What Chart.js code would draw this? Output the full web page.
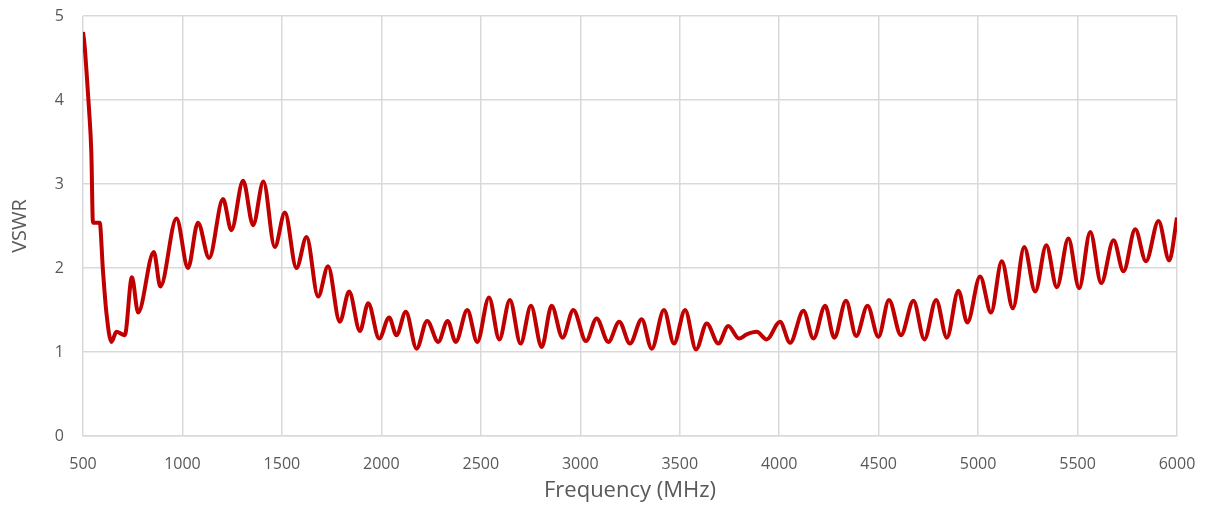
<!DOCTYPE html>
<html>
<head>
<meta charset="utf-8">
<script src="https://cdn.jsdelivr.net/npm/chart.js@4"></script>
<style>
  html, body { margin: 0; padding: 0; background: #ffffff; }
  #wrap { width: 1208px; height: 508px; position: relative; }
</style>
</head>
<body>
<div id="wrap"><canvas id="chart"></canvas></div>
<script>
const freqMHz = [
  500, 508, 517, 530, 542, 550, 584, 600, 618, 643, 668, 710,
  746, 777, 856, 889, 970, 1028, 1078, 1134, 1204, 1246,
  1305, 1355, 1407, 1464, 1515, 1573, 1624, 1682, 1732, 1791,
  1838, 1892, 1934, 1989, 2039, 2076, 2123, 2177, 2230, 2286,
  2333, 2374, 2432, 2482, 2541, 2593, 2646, 2700, 2752, 2806,
  2856, 2911, 2965, 3029, 3082, 3141, 3196, 3250, 3309, 3359,
  3421, 3471, 3527, 3582, 3636, 3694, 3744, 3798, 3837, 3887,
  3937, 4004, 4055, 4122, 4172, 4231, 4277, 4336, 4387, 4444,
  4499, 4552, 4612, 4675, 4730, 4789, 4843, 4901, 4946, 5010,
  5065, 5119, 5175, 5232, 5287, 5343, 5396, 5454, 5508, 5564,
  5619, 5681, 5731, 5790, 5844, 5907, 5961, 6000
];

const vswr = [
  4.81, 4.65, 4.36, 3.90, 3.37, 2.54, 2.54, 1.98, 1.46, 1.12, 1.24, 1.20,
  1.89, 1.47, 2.19, 1.78, 2.59, 2.00, 2.54, 2.12, 2.82, 2.45,
  3.04, 2.51, 3.03, 2.25, 2.66, 2.00, 2.37, 1.66, 2.02, 1.36,
  1.72, 1.25, 1.58, 1.16, 1.41, 1.20, 1.48, 1.04, 1.37, 1.12,
  1.37, 1.12, 1.50, 1.12, 1.65, 1.15, 1.62, 1.10, 1.55, 1.06,
  1.55, 1.17, 1.50, 1.13, 1.40, 1.12, 1.36, 1.10, 1.39, 1.04,
  1.50, 1.10, 1.50, 1.03, 1.34, 1.10, 1.31, 1.16, 1.21, 1.24,
  1.15, 1.36, 1.11, 1.49, 1.16, 1.55, 1.17, 1.61, 1.19, 1.55,
  1.18, 1.62, 1.20, 1.61, 1.15, 1.62, 1.17, 1.73, 1.35, 1.90,
  1.47, 2.08, 1.52, 2.25, 1.72, 2.27, 1.77, 2.35, 1.76, 2.43,
  1.82, 2.33, 1.96, 2.46, 2.08, 2.56, 2.09, 2.60
];

const points = freqMHz.map((f, i) => ({ x: f, y: vswr[i] }));

const textColor = "#595959";
const gridColor = "#d9d9d9";
const fontFamily = "'Open Sans', 'Noto Sans', sans-serif";

new Chart(document.getElementById("chart").getContext("2d"), {
  type: "line",
  data: {
    datasets: [{
      label: "VSWR",
      data: points,
      borderColor: "#c00000",
      borderWidth: 4,
      pointRadius: 0,
      cubicInterpolationMode: "monotone",
      fill: false
    }]
  },
  options: {
    responsive: true,
    maintainAspectRatio: false,
    animation: false,
    layout: {
      padding: { top: 16, right: 31, bottom: 0, left: 8 }
    },
    plugins: {
      legend: { display: false },
      tooltip: { enabled: false }
    },
    scales: {
      x: {
        type: "linear",
        min: 500,
        max: 6000,
        ticks: {
          stepSize: 500,
          color: textColor,
          font: { family: fontFamily, size: 16 },
          padding: 19,
          maxRotation: 0,
          callback: (v) => String(v)
        },
        grid: { color: gridColor, lineWidth: 1.5, drawTicks: false },
        border: { color: gridColor, width: 1.5 },
        title: {
          display: true,
          text: "Frequency (MHz)",
          color: textColor,
          font: { family: fontFamily, size: 22 },
          padding: { top: 0, bottom: 4 }
        },
        afterFit: (scale) => {
          scale.height = 72;
          scale.paddingLeft = 0;
          scale.paddingRight = 0;
        }
      },
      y: {
        min: 0,
        max: 5,
        ticks: {
          stepSize: 1,
          color: textColor,
          font: { family: fontFamily, size: 16 },
          padding: 19
        },
        grid: { color: gridColor, lineWidth: 1.5, drawTicks: false },
        border: { display: false },
        title: {
          display: true,
          text: "VSWR",
          color: textColor,
          font: { family: fontFamily, size: 20 },
          padding: { top: 0, bottom: 0 }
        },
        afterFit: (scale) => {
          scale.width = 75;
          scale.paddingTop = 0;
          scale.paddingBottom = 0;
        }
      }
    }
  }
});
</script>
</body>
</html>
